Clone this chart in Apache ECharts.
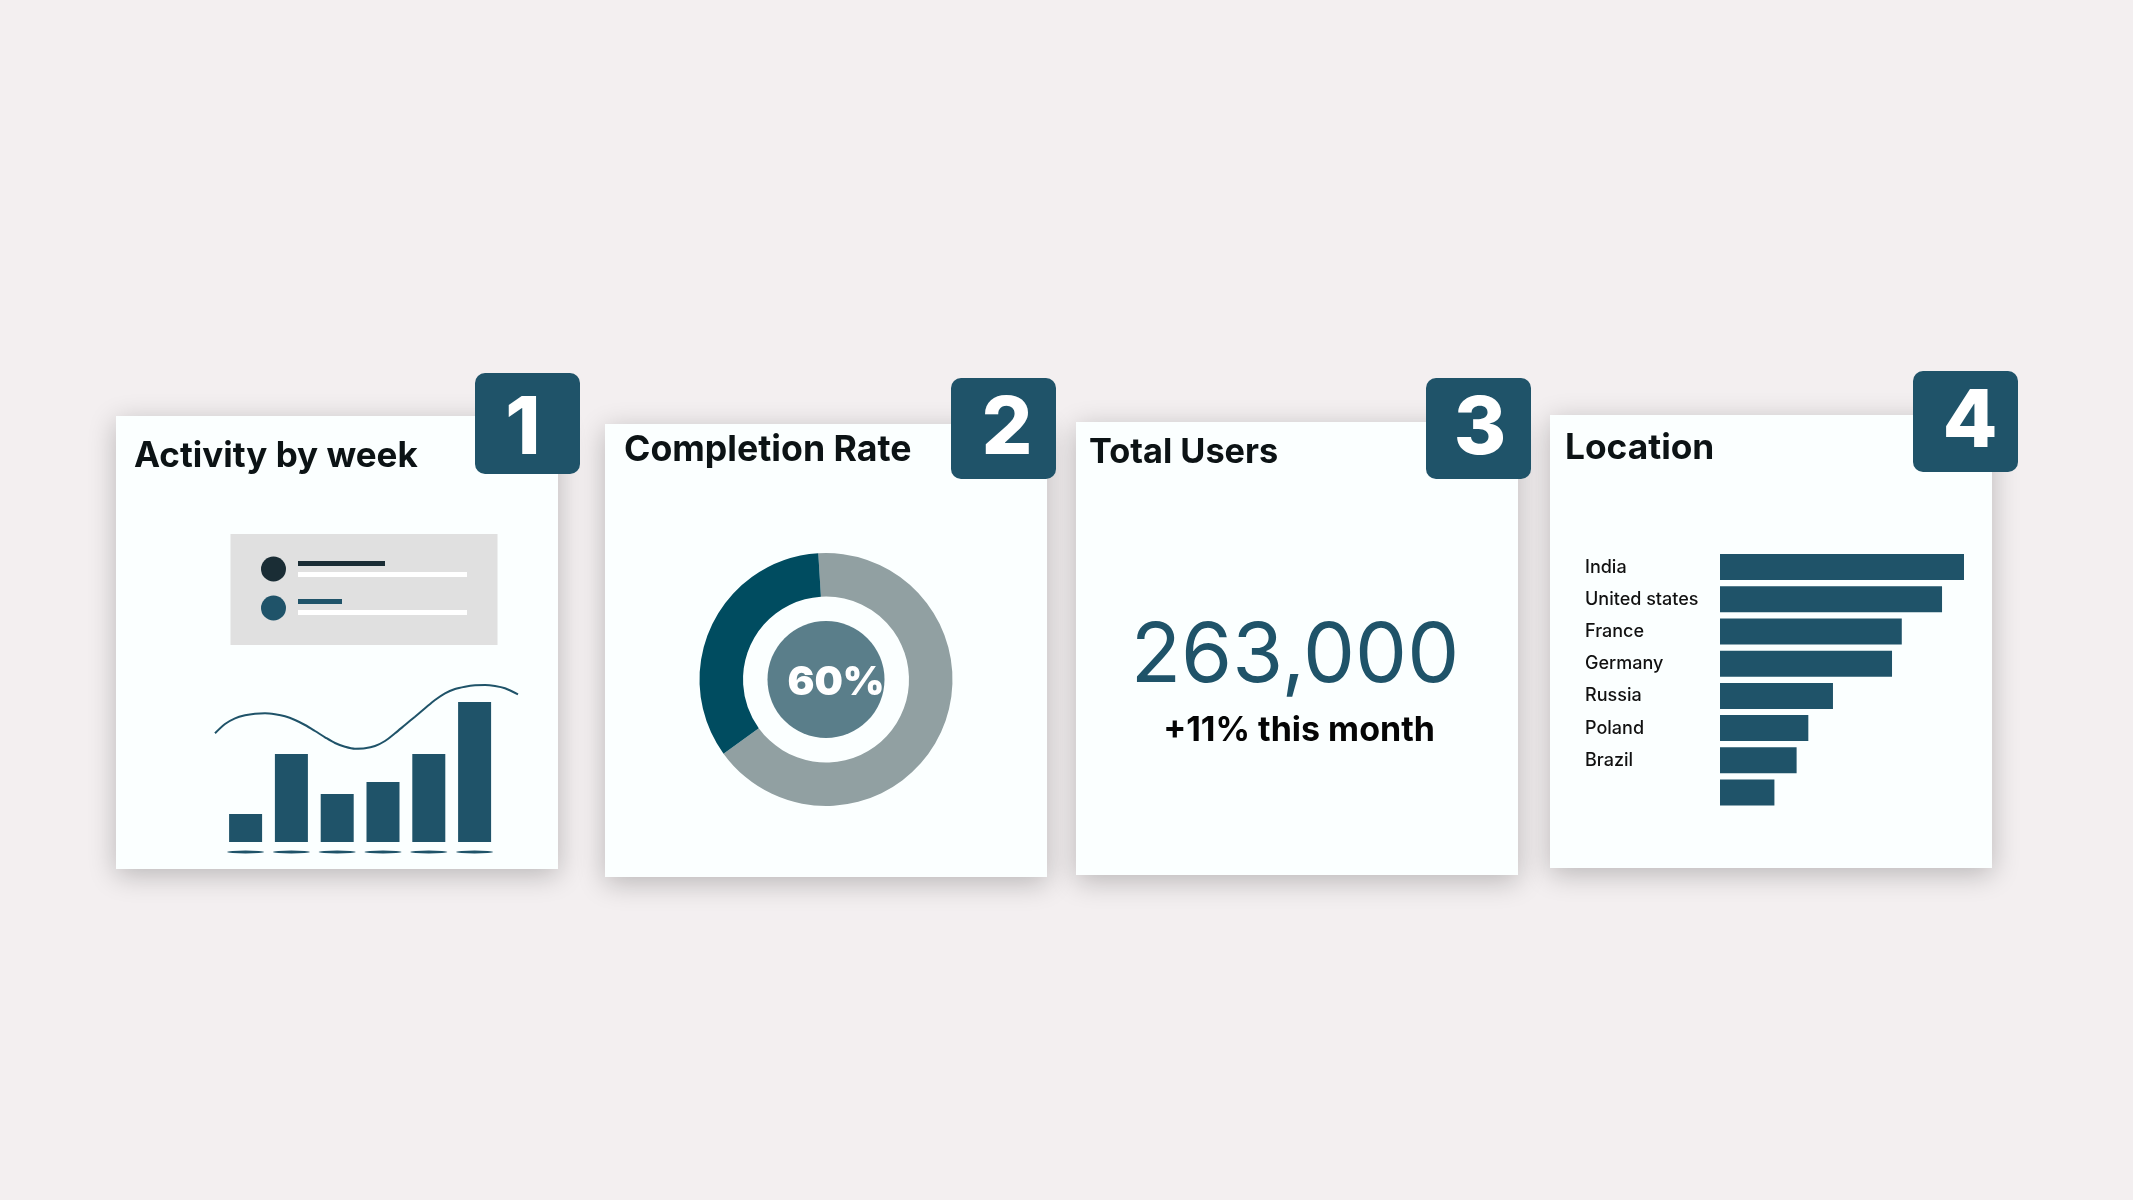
<!DOCTYPE html>
<html>
<head>
<meta charset="utf-8">
<title>Dashboard cards</title>
<script src="https://cdn.jsdelivr.net/npm/echarts@6/dist/echarts.min.js"></script>
<style>
  html, body { margin: 0; padding: 0; background: #f3eff0; }
  #main { width: 2133px; height: 1200px; }
</style>
</head>
<body>
<div id="main"></div>
<script>
// values
var weeks = ['W1', 'W2', 'W3', 'W4', 'W5', 'W6'];
var weekBars = [28, 88, 48, 60, 88, 140];
var weekTicks = [-10, -10, -10, -10, -10, -10];
var curveX = [0, 10, 20, 30, 40, 50, 60, 70, 80, 90, 100, 110, 120, 130, 140, 150,
  160, 170, 180, 190, 200, 210, 220, 230, 240, 250, 260, 270, 280, 290, 303];
var curveY = [19.7, 29, 34.7, 37.7, 39.3, 39.7, 38.7, 36.7, 33, 28, 22, 15.7, 10, 6.3, 4.3, 4.7,
  7, 12, 19.7, 28, 36.3, 44.7, 53, 59.7, 64, 66.3, 67.7, 68, 67, 64.7, 58.7];
var completionNames = ['Remaining', 'Completed'];
var completionValues = [66, 34];
var countries = ['India', 'United states', 'France', 'Germany', 'Russia', 'Poland', 'Brazil', ''];
var countryValues = [100, 91, 74.5, 70.5, 46.3, 36.2, 31.4, 22.3];

var BLUE = '#1f5369';
var INK = '#0c1315';
var FONT = 'Inter, "Open Sans", sans-serif';

function card(x, y) {
  return {
    type: 'rect', z: -10,
    shape: { x: x, y: y, width: 442, height: 453 },
    style: { fill: '#fbffff', shadowBlur: 26, shadowOffsetY: 6, shadowColor: 'rgba(0,0,0,0.24)' }
  };
}
function badge(x, y, num, cx, cy) {
  return [{
    type: 'rect', z: 20,
    shape: { x: x, y: y, width: 105, height: 101, r: 10 },
    style: { fill: BLUE }
  }, {
    type: 'text', z: 21, x: cx, y: cy,
    style: { text: num, fill: '#fff', font: '800 80px ' + FONT, textAlign: 'center', textVerticalAlign: 'middle' }
  }];
}
function title(text, x, y, size) {
  return {
    type: 'text', z: 5, x: x, y: y,
    style: { text: text, fill: INK, font: '700 ' + size + 'px ' + FONT, textAlign: 'left', textVerticalAlign: 'middle' }
  };
}
function box(x, y, w, h, color) {
  return { type: 'rect', z: -5, shape: { x: x, y: y, width: w, height: h }, style: { fill: color } };
}
function dot(cx, cy, color) {
  return { type: 'circle', z: -4, shape: { cx: cx, cy: cy, r: 12.5 }, style: { fill: color } };
}

var graphics = [
  card(116, 416), card(605, 424), card(1076, 422), card(1550, 415),
  box(230.5, 534, 267, 111, '#e0e0e0'),
  dot(273.5, 569, '#1a2d35'), dot(273.5, 608, BLUE),
  box(298, 561, 87, 5, '#1a2d35'), box(298, 572, 169, 5, '#ffffff'),
  box(298, 599, 44, 5, BLUE), box(298, 610, 169, 5, '#ffffff'),
  title('Activity by week', 134, 456, 35),
  title('Completion Rate', 624, 450, 35.7),
  title('Total Users', 1089, 453, 34.3),
  title('Location', 1565, 448, 35.3),
  {
    type: 'text', z: 5, x: 1295, y: 657,
    style: { text: '263,000', fill: BLUE, font: '400 82.5px ' + FONT, textAlign: 'center', textVerticalAlign: 'middle' }
  },
  {
    type: 'text', z: 5, x: 1299, y: 731,
    style: { text: '+11% this month', fill: '#050505', font: '700 34px ' + FONT, textAlign: 'center', textVerticalAlign: 'middle' }
  }
].concat(
  badge(475, 373, '1', 523, 430),
  badge(951, 378, '2', 1007, 430),
  badge(1426, 378, '3', 1480, 430),
  badge(1913, 371, '4', 1970, 423)
);

var chart = echarts.init(document.getElementById('main'));
chart.setOption({
  backgroundColor: '#f3eff0',
  animation: false,
  textStyle: { fontFamily: FONT },
  graphic: { elements: graphics },
  grid: [
    { left: 222.7, top: 682, width: 274.8, height: 175 },  // weekly bars
    { left: 215, top: 680, width: 303, height: 73 },       // curve above the bars
    { left: 1720, top: 551, width: 244, height: 257.6 }    // location bars
  ],
  xAxis: [
    { type: 'category', gridIndex: 0, data: weeks, show: false },
    { type: 'value', gridIndex: 1, min: 0, max: 303, show: false },
    { type: 'value', gridIndex: 2, min: 0, max: 100, show: false }
  ],
  yAxis: [
    { type: 'value', gridIndex: 0, min: -15, max: 160, show: false },
    { type: 'value', gridIndex: 1, min: 0, max: 73, show: false },
    {
      type: 'category', gridIndex: 2, data: countries, inverse: true,
      axisLine: { show: false }, axisTick: { show: false },
      axisLabel: { margin: 135, align: 'left', color: '#111', fontSize: 18, fontWeight: 500, fontFamily: FONT, padding: [5, 0, 0, 0] }
    }
  ],
  series: [
    {
      type: 'bar', xAxisIndex: 0, yAxisIndex: 0, data: weekBars, barWidth: 33,
      itemStyle: { color: BLUE }, silent: true
    },
    {
      // thin lens marks under the bars
      type: 'scatter', xAxisIndex: 0, yAxisIndex: 0, data: weekTicks,
      symbol: 'circle', symbolSize: [37, 3],
      itemStyle: { color: BLUE, opacity: 1 }, silent: true
    },
    {
      type: 'line', xAxisIndex: 1, yAxisIndex: 1, smooth: 0.3, showSymbol: false,
      data: curveX.map(function (x, i) { return [x, curveY[i]]; }),
      lineStyle: { color: BLUE, width: 2 }, silent: true
    },
    {
      type: 'pie', center: [826, 679.5], radius: [83, 126.5], startAngle: 93.5,
      label: { show: false }, labelLine: { show: false }, silent: true,
      data: [
        { name: completionNames[0], value: completionValues[0], itemStyle: { color: '#91a0a2' } },
        { name: completionNames[1], value: completionValues[1], itemStyle: { color: '#004c60' } }
      ]
    },
    {
      type: 'pie', center: [826, 679.5], radius: [0, 58.5], silent: true,
      labelLine: { show: false },
      label: {
        show: true, position: 'center', formatter: '60%', offset: [10, 3],
        color: '#fff', fontSize: 40, fontWeight: 900, fontFamily: FONT
      },
      data: [{ name: 'Rate', value: 60, itemStyle: { color: '#5a7e8a' } }]
    },
    {
      type: 'bar', xAxisIndex: 2, yAxisIndex: 2, data: countryValues, barWidth: 26,
      itemStyle: { color: BLUE }, silent: true
    }
  ]
});
</script>
</body>
</html>
